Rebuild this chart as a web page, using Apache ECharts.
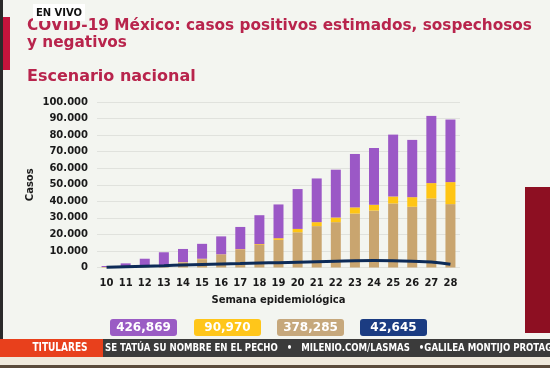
<!DOCTYPE html>
<html><head><meta charset="utf-8">
<script src="https://cdn.jsdelivr.net/npm/echarts@6/dist/echarts.min.js"></script>
<style>html,body{margin:0;padding:0;background:#f3f5f0}#c{width:550px;height:368px}</style>
</head><body><div id="c"></div>
<script>
const weeks = ['10','11','12','13','14','15','16','17','18','19','20','21','22','23','24','25','26','27','28'];
const positivos = [200,300,700,1200,3000,5000,7600,10600,13600,16700,21300,25000,27400,32600,34400,38700,36700,41700,38300];
const sospechosos = [100,100,100,100,200,300,300,400,500,1000,2000,2400,2800,3700,3500,4200,5800,9300,13300];
const negativos = [600,2100,4500,7900,8000,9000,10900,13500,17500,20400,24100,26400,28900,32300,34300,37400,34600,40600,37800];
const linea = [200,500,800,1100,1500,1800,2100,2400,2700,2900,3200,3500,3800,4100,4200,4100,3800,3300,1900];
const totals = ['426,869','90,970','378,285','42,645'];

const C_PURPLE='#9b58c6', C_YELLOW='#ffc514', C_TAN='#c9a56f', C_BLUE='#0d2b57';
const boxColors=['#9a5cc4','#ffc61a','#c6a87c','#1b3c82'];
const F='"DejaVu Sans", sans-serif';
const fmt = v => String(v).replace(/\B(?=(\d{3})+(?!\d))/g,'.');

const chart = echarts.init(document.getElementById('c'));
const graphics = [
  {type:'rect',shape:{x:0,y:0,width:3,height:368},style:{fill:'#2a2a2a'},z:10},
  {type:'rect',shape:{x:3,y:17,width:7,height:53},style:{fill:'#c4143c'},z:10},
  {type:'text',left:27,top:18,style:{text:'COVID-19 México: casos positivos estimados, sospechosos\ny negativos',font:'bold 15.3px '+F,fill:'#b8244c',lineHeight:17},z:10},
  {type:'text',left:27,top:69,style:{text:'Escenario nacional',font:'bold 16px '+F,fill:'#b8244c'},z:10},
  {type:'rect',shape:{x:33,y:4,width:52,height:17},style:{fill:'#ffffff'},z:11},
  {type:'text',x:59,y:13,style:{text:'EN VIVO',font:'bold 10px '+F,fill:'#111',align:'center',verticalAlign:'middle'},z:12},
  {type:'rect',shape:{x:525,y:187,width:25,height:146},style:{fill:'#8d0f22'},z:10},
  {type:'rect',shape:{x:0,y:339,width:550,height:18},style:{fill:'#3b3b3b'},z:10},
  {type:'rect',shape:{x:0,y:339,width:103,height:18},style:{fill:'#e8401c'},z:11},
  {type:'text',x:60,y:348,scaleX:0.75,style:{text:'TITULARES',font:'bold 12px '+F,fill:'#fff',align:'center',verticalAlign:'middle'},z:12},
  {type:'text',x:105,y:348,scaleX:0.78,style:{text:'SE TATÚA SU NOMBRE EN EL PECHO   •   MILENIO.COM/LASMAS   •GALILEA MONTIJO PROTAGONIZA',font:'bold 11px '+F,fill:'#fff',verticalAlign:'middle'},z:12},
  {type:'rect',shape:{x:0,y:357,width:550,height:8},style:{fill:'#efe9dc'},z:10},
  {type:'rect',shape:{x:0,y:365,width:550,height:3},style:{fill:'#5a4a3a'},z:10}
];
const boxX=[110,194,277,360];
totals.forEach((t,i)=>{
  graphics.push({type:'rect',shape:{x:boxX[i],y:319,width:67,height:17,r:3},style:{fill:boxColors[i]},z:10});
  graphics.push({type:'text',x:boxX[i]+33.5,y:327.5,style:{text:t,font:'bold 12px '+F,fill:'#fff',align:'center',verticalAlign:'middle'},z:11});
});

chart.setOption({
  backgroundColor:'#f3f5f0',
  animation:false,
  grid:{left:97,right:90,top:102,bottom:100.5},
  xAxis:{type:'category',data:weeks,
    axisLine:{show:false},axisTick:{show:false},
    axisLabel:{margin:11,fontWeight:'bold',fontSize:10,fontFamily:F,color:'#1a1a1a'},
    name:'Semana epidemiológica',nameLocation:'middle',nameGap:28,nameMoveOverlap:false,
    nameTextStyle:{fontWeight:'bold',fontSize:10,fontFamily:F,color:'#1a1a1a'}},
  yAxis:{type:'value',min:0,max:100000,interval:10000,
    axisLine:{show:false},axisTick:{show:false},
    splitLine:{lineStyle:{color:'#e0e2dd',width:1}},
    axisLabel:{margin:9,formatter:v=>fmt(v),fontWeight:'bold',fontSize:10,fontFamily:F,color:'#1a1a1a'},
    name:'Casos',nameLocation:'middle',nameGap:62,nameMoveOverlap:false,
    nameTextStyle:{fontWeight:'bold',fontSize:10,fontFamily:F,color:'#1a1a1a'}},
  series:[
    {name:'Positivos estimados',type:'bar',stack:'s',data:positivos,barWidth:10,itemStyle:{color:C_TAN}},
    {name:'Sospechosos',type:'bar',stack:'s',data:sospechosos,barWidth:10,itemStyle:{color:C_YELLOW}},
    {name:'Negativos',type:'bar',stack:'s',data:negativos,barWidth:10,itemStyle:{color:C_PURPLE}},
    {name:'Defunciones',type:'line',data:linea,smooth:true,symbol:'none',z:5,lineStyle:{color:C_BLUE,width:3}}
  ],
  graphic:graphics
});
</script></body></html>
